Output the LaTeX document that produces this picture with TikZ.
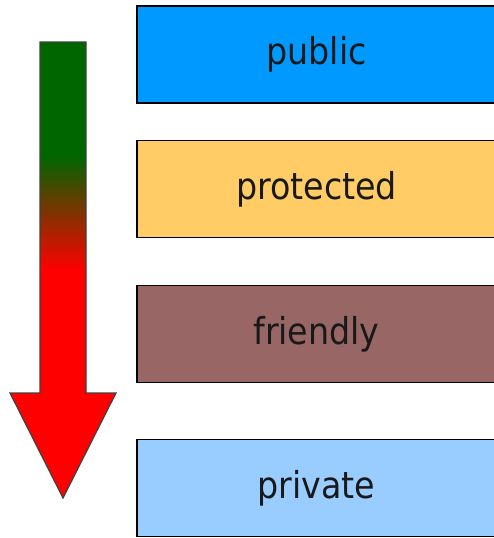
\documentclass[tikz,border=0pt]{standalone}
\usepackage{fontspec}
\newfontfamily\labelfont{DejaVu Sans Condensed}
\definecolor{pubc}{HTML}{0099FF}
\definecolor{protc}{HTML}{FFCC66}
\definecolor{friendc}{HTML}{996666}
\definecolor{privc}{HTML}{99CCFF}
\definecolor{dkgreen}{HTML}{006600}
\pgfdeclareverticalshading{arrowshade}{100bp}{color(0bp)=(red); color(50bp)=(red); color(62.5bp)=(dkgreen); color(100bp)=(dkgreen)}
\tikzset{
  levelbox/.style={draw=black, line width=1.6pt, minimum width=359pt, minimum height=97pt, inner sep=0pt, font=\labelfont\fontsize{37}{44}\selectfont, text=black!90},
}
\begin{document}
\begin{tikzpicture}[x=1pt,y=-1pt]
\useasboundingbox (0,0) rectangle (493,538);
\node[levelbox, fill=pubc] (public) at (316.5,54.5) {public};
\node[levelbox, fill=protc] (protected) at (316.5,189) {protected};
\node[levelbox, fill=friendc] (friendly) at (316.5,334) {friendly};
\node[levelbox, fill=privc] (private) at (316.5,488) {private};
\shade[shading=arrowshade, draw=black!75, line width=1.2pt, line join=miter]
  (40,42) -- (86,42) -- (86,393) -- (116,393) -- (63,498) -- (10,393) -- (40,393) -- cycle;
\end{tikzpicture}
\end{document}
